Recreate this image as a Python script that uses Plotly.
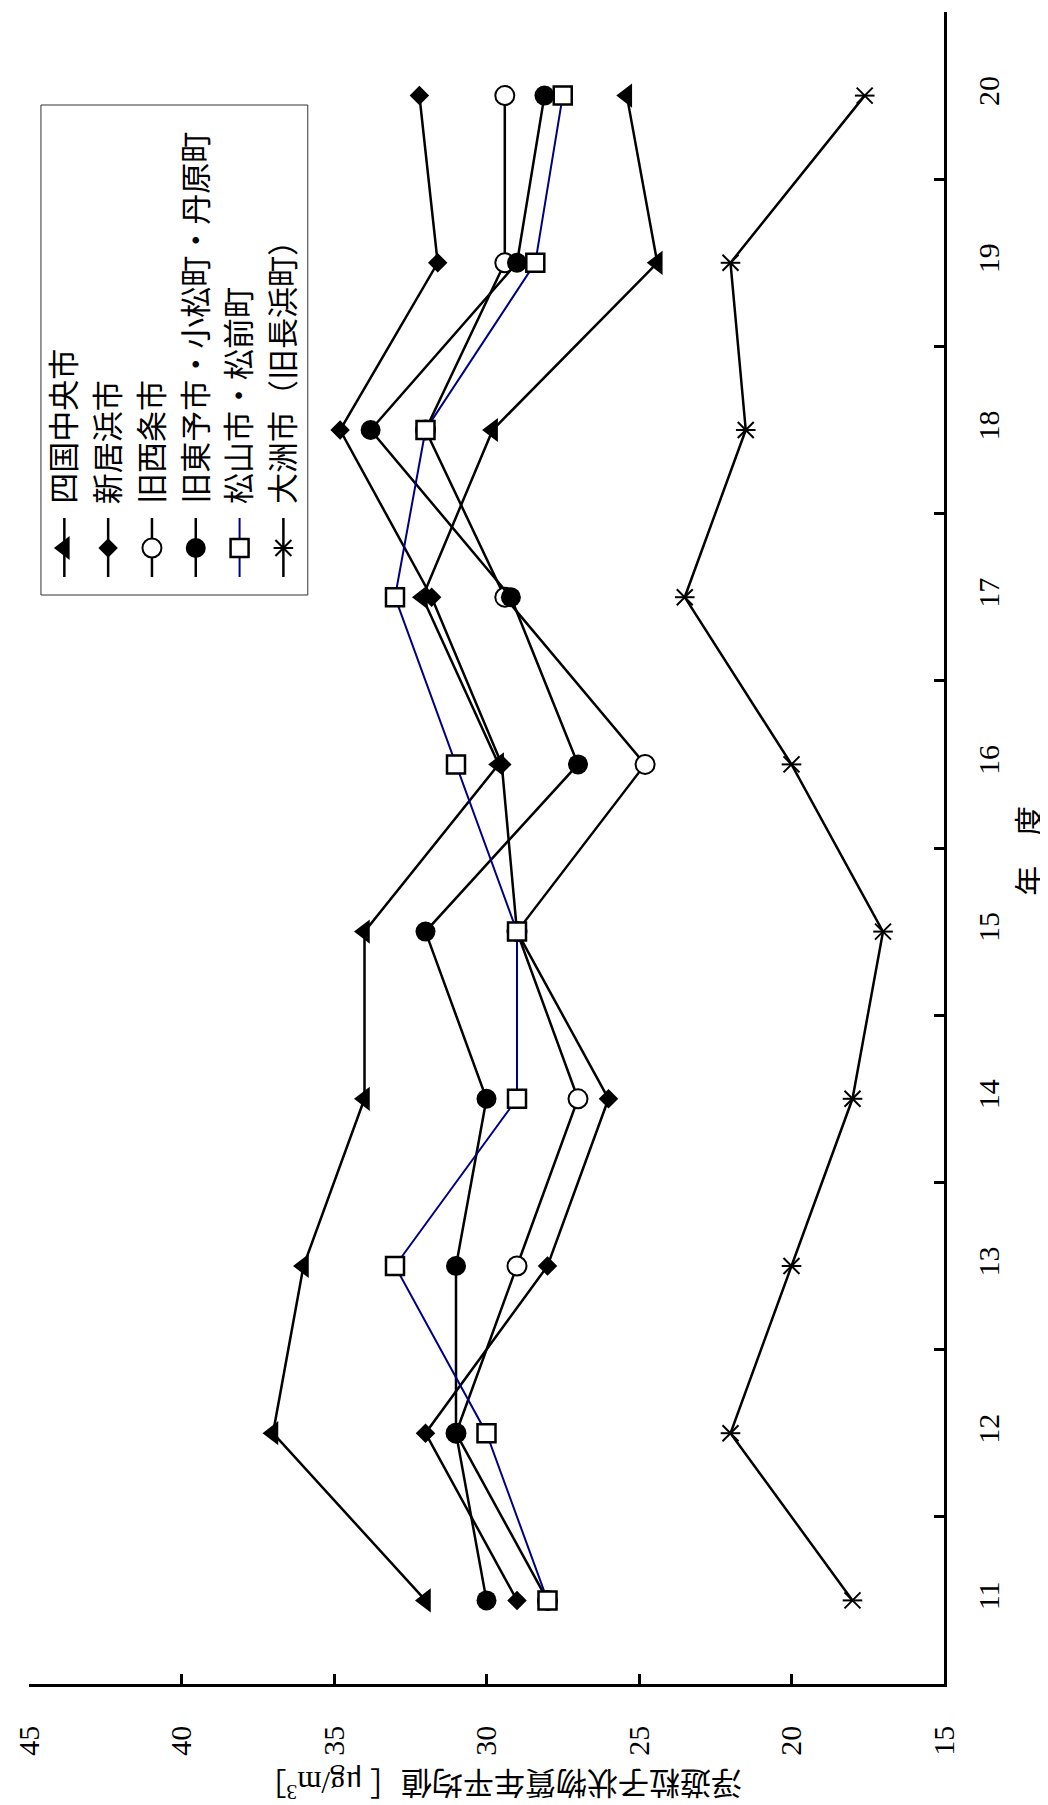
import plotly.graph_objects as go

# ---------------- data ----------------
years = ["11", "12", "13", "14", "15", "16", "17", "18", "19", "20"]
shikokuchuo = [32, 37, 36, 34, 34, 29.6, 32.1, 29.8, 24.4, 25.4]
niihama = [29, 32, 28, 26, 29, 29.5, 31.8, 34.8, 31.6, 32.2]
saijo = [28, 31, 29, 27, 29, 24.8, 29.4, 32, 29.4, 29.4]
toyo = [30, 31, 31, 30, 32, 27, 29.2, 33.8, 29.0, 28.1]
matsuyama = [28, 30, 33, 29, 29, 31, 33, 32, 28.4, 27.5]
ozu = [18, 22, 20, 18, 17, 20, 23.5, 21.5, 22, 17.6]

series_names = ["四国中央市", "新居浜市", "旧西条市", "旧東予市・小松町・丹原町",
                "松山市・松前町", "大洲市（旧長浜町）"]
value_ticks = [15, 20, 25, 30, 35, 40, 45]
year_title = "年　度"
value_title = "浮遊粒子状物質年平均値［ μg/m<sup>3</sup>］"

# ---------------- styles ----------------
BLACK = "black"
NAVY = "#000080"
FONT = "Liberation Serif, Noto Sans CJK JP, serif"
FS = 30

styles = [
    dict(line=dict(color=BLACK, width=2.5), markers=[dict(symbol="triangle-left", size=21, color=BLACK, line=dict(width=0))]),
    dict(line=dict(color=BLACK, width=2.5), markers=[dict(symbol="diamond", size=15, color=BLACK, line=dict(width=0))]),
    dict(line=dict(color=BLACK, width=2.5), markers=[dict(symbol="circle", size=19, color="white", line=dict(width=2, color=BLACK))]),
    dict(line=dict(color=BLACK, width=2.5), markers=[dict(symbol="circle", size=20, color=BLACK, line=dict(width=0))]),
    dict(line=dict(color=NAVY, width=2), markers=[dict(symbol="square", size=18, color="white", line=dict(width=2.5, color=BLACK))]),
    dict(line=dict(color=BLACK, width=2.5), markers=[dict(symbol="x-thin", size=16, color=BLACK, line=dict(width=2, color=BLACK)),
                                                      dict(symbol="line-ew", size=14, color=BLACK, line=dict(width=2, color=BLACK))]),
]
series_values = [shikokuchuo, niihama, saijo, toyo, matsuyama, ozu]

fig = go.Figure()

for name, vals, st in zip(series_names, series_values, styles):
    fig.add_trace(go.Scatter(x=vals, y=years, mode="lines+markers", name=name,
                             line=st["line"], marker=st["markers"][0], showlegend=False,
                             cliponaxis=False))
    for extra in st["markers"][1:]:
        fig.add_trace(go.Scatter(x=vals, y=years, mode="markers", marker=extra,
                                 showlegend=False, cliponaxis=False))

# ---------------- page geometry (page pixels; body has 8px margin) ----------------
BODY = 8
W, H = 1040, 1797
PX_L, PX_R, PX_T, PX_B = 25, 944, 12, 1684   # plot area in page pixels


def paper_x(px):
    return (px - PX_L) / (PX_R - PX_L)


def paper_y(py):
    return (PX_B - py) / (PX_B - PX_T)


# ---------------- manual rotated legend (pixel overlay axes) ----------------
leg_x0, leg_dx = 60.5, 44
leg_line = (518, 577)
leg_marker_y = 548
leg_text_bottom = 506

for i, (name, st) in enumerate(zip(series_names, styles)):
    cx = leg_x0 + i * leg_dx
    fig.add_trace(go.Scatter(x=[cx, cx], y=list(leg_line), mode="lines", line=st["line"],
                             xaxis="x2", yaxis="y2", showlegend=False, hoverinfo="skip"))
    for m in st["markers"]:
        fig.add_trace(go.Scatter(x=[cx], y=[leg_marker_y], mode="markers", marker=m,
                                 xaxis="x2", yaxis="y2", showlegend=False, hoverinfo="skip"))
    fig.add_annotation(x=cx, y=leg_text_bottom, xref="x2", yref="y2", text=name,
                       textangle=-90, showarrow=False, xanchor="center", yanchor="bottom",
                       font=dict(family=FONT, size=31, color=BLACK))

fig.add_shape(type="rect", xref="x2", yref="y2", x0=37, x1=305, y0=105, y1=595,
              line=dict(color="#333333", width=1))

# axis titles
fig.add_annotation(x=paper_x(1029), y=paper_y(851), xref="paper", yref="paper", text=year_title,
                   textangle=-90, showarrow=False, xanchor="center", yanchor="middle",
                   font=dict(family=FONT, size=FS, color=BLACK))
fig.add_annotation(x=paper_x(497), y=paper_y(1784), xref="paper", yref="paper", text=value_title,
                   textangle=180, showarrow=False, xanchor="center", yanchor="middle",
                   font=dict(family=FONT, size=31, color=BLACK))

fig.update_layout(
    width=W, height=H,
    margin=dict(l=PX_L - BODY, r=W - (PX_R - BODY), t=PX_T - BODY, b=H - (PX_B - BODY)),
    paper_bgcolor="white", plot_bgcolor="white",
    showlegend=False,
    xaxis=dict(range=[45, 15], tickvals=value_ticks, ticks="inside", ticklen=10, tickwidth=2.5,
               tickcolor=BLACK, showline=True, linewidth=2.5, linecolor=BLACK, showgrid=False,
               zeroline=False, tickangle=-90, ticklabelstandoff=27, ticklabeloverflow="allow",
               tickfont=dict(family=FONT, size=FS, color=BLACK)),
    yaxis=dict(type="category", categoryarray=years, categoryorder="array", range=[-0.5, 9.5],
               side="right", tickson="boundaries", ticks="inside", ticklen=10, tickwidth=2.5,
               tickcolor=BLACK, showline=True, linewidth=2.5, linecolor=BLACK, showgrid=False,
               zeroline=False, tickangle=-90, ticklabelstandoff=16, ticklabeloverflow="allow",
               tickfont=dict(family=FONT, size=FS, color=BLACK)),
    xaxis2=dict(range=[PX_L, PX_R], overlaying="x", visible=False, fixedrange=True),
    yaxis2=dict(range=[PX_B, PX_T], overlaying="y", visible=False, fixedrange=True),
)

fig.write_html("out.html")
